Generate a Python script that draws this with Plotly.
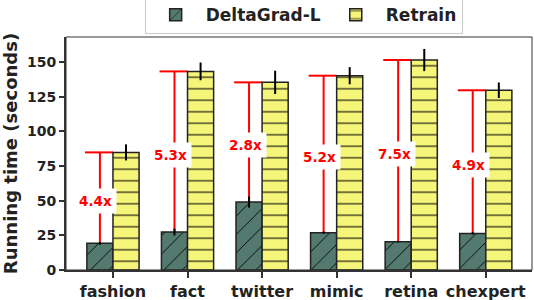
import plotly.graph_objects as go

categories = ["fashion", "fact", "twitter", "mimic", "retina", "chexpert"]
deltagrad = [19.2, 27.4, 49.0, 26.9, 20.4, 26.4]
deltagrad_err = [1.0, 2.5, 4.0, 0.8, 0.5, 0.8]
retrain = [84.8, 143.2, 135.3, 140.1, 151.4, 129.6]
retrain_err = [5.8, 6.4, 8.4, 6.2, 8.0, 5.6]
speedup_labels = ["4.4x", "5.3x", "2.8x", "5.2x", "7.5x", "4.9x"]
y_ticks = [0, 25, 50, 75, 100, 125, 150]

FONT = "DejaVu Sans"
TEAL = "#547a70"
YELLOW = "#f5f57a"
DARK = "#222222"

idx = list(range(len(categories)))
fig = go.Figure()

fig.add_trace(go.Bar(
    name="DeltaGrad-L", x=idx, y=deltagrad,
    marker=dict(color=TEAL, line=dict(color=DARK, width=1.5),
                pattern=dict(shape="/", size=13, solidity=0.07,
                             fgcolor="black", bgcolor=TEAL, fillmode="replace")),
    error_y=dict(type="data", array=deltagrad_err, color="black", thickness=2, width=0),
))
fig.add_trace(go.Bar(
    name="Retrain", x=idx, y=retrain,
    marker=dict(color=YELLOW, line=dict(color=DARK, width=1.5),
                pattern=dict(shape="-", size=11.5, solidity=0.09,
                             fgcolor="black", bgcolor=YELLOW, fillmode="replace")),
    error_y=dict(type="data", array=retrain_err, color="black", thickness=2, width=0),
))

bar_w = 0.35
shapes = []
annotations = []
for i, (d, r, lab) in enumerate(zip(deltagrad, retrain, speedup_labels)):
    xc = i - bar_w / 2
    shapes.append(dict(type="line", xref="x", yref="y", x0=xc - 0.2, x1=i,
                       y0=r, y1=r, line=dict(color="red", width=2), layer="below"))
    shapes.append(dict(type="line", xref="x", yref="y", x0=xc, x1=xc,
                       y0=r, y1=d, line=dict(color="red", width=2), layer="below"))
    annotations.append(dict(x=xc, y=(r + d) / 2, xref="x", yref="y", text=lab,
                            showarrow=False, xshift=-4, yshift=-3,
                            font=dict(family=FONT, size=13.5, color="red", weight="bold"),
                            bgcolor="white", borderpad=4))

shapes.append(dict(type="rect", xref="paper", yref="paper", x0=0, x1=1, y0=0, y1=1,
                   line=dict(color="#333333", width=1), layer="above"))

fig.update_layout(
    width=534, height=300,
    margin=dict(l=66, r=2, t=37, b=30, autoexpand=False),
    paper_bgcolor="white", plot_bgcolor="white",
    barmode="group", bargap=0.3, bargroupgap=0,
    shapes=shapes, annotations=annotations,
    font=dict(family=FONT, color=DARK),
    legend=dict(orientation="h", x=0.51, xanchor="center", y=1.012, yanchor="bottom",
                bordercolor="#cccccc", borderwidth=1,
                font=dict(family=FONT, size=17, color=DARK, weight="bold"),
                itemwidth=50),
    xaxis=dict(range=[-0.63, 5.62], tickvals=idx, ticktext=categories,
               showline=True, linecolor="#333333", linewidth=2,
               ticks="outside", ticklen=6, tickwidth=1.5, tickcolor="#333333",
               showgrid=False, zeroline=False,
               tickfont=dict(family=FONT, size=16, color=DARK, weight="bold")),
    yaxis=dict(range=[0, 168], tickvals=y_ticks,
               showline=True, linecolor="#333333", linewidth=2,
               ticks="outside", ticklen=5, tickwidth=1.5, tickcolor="#333333",
               showgrid=False, zeroline=False,
               tickfont=dict(family=FONT, size=14, color=DARK, weight="bold"),
               title=dict(text="Running time (seconds)", standoff=9,
                          font=dict(family=FONT, size=18, color=DARK, weight="bold"))),
)

# remove the browser's default 8px body margin so the figure fills the window exactly
fig.write_html("out.html", config={"displayModeBar": False},
               post_script="document.body.style.margin='0px';")
